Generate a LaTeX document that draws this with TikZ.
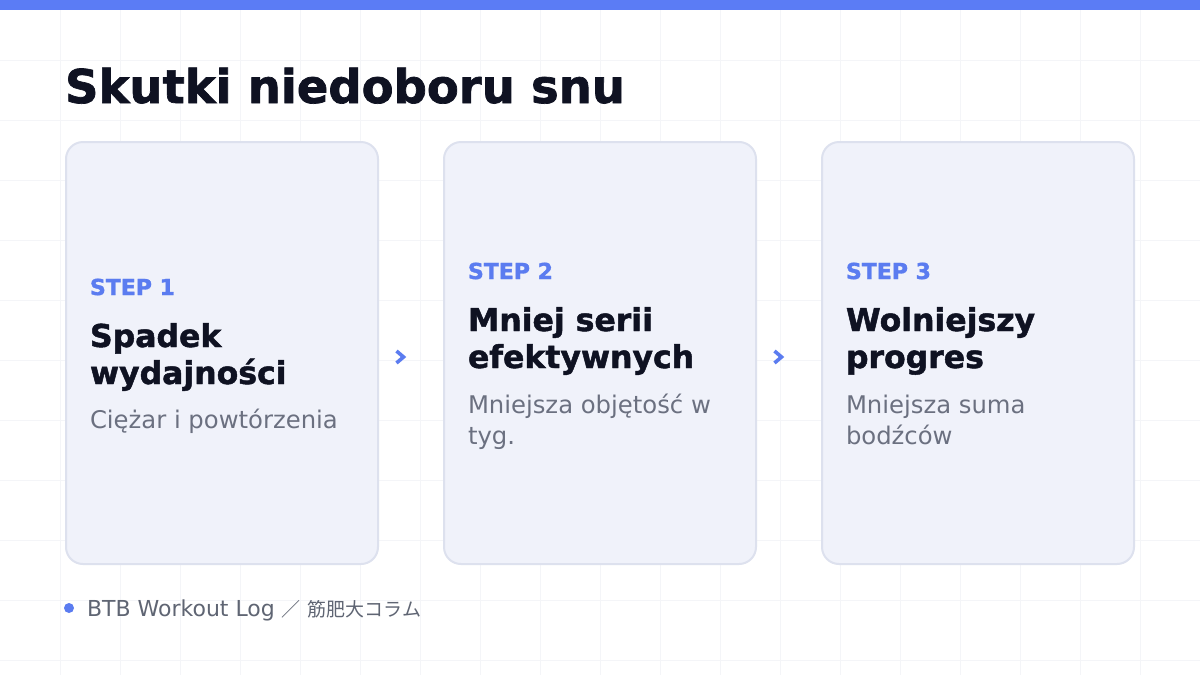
\documentclass[tikz,border=0pt]{standalone}
\usepackage{fontspec}
\setmainfont{DejaVu Sans}[BoldFeatures={FakeBold=1.5}]
\newfontfamily\cjk{Noto Sans CJK JP}
\definecolor{topbar}{HTML}{5B7CF5}
\definecolor{accent}{HTML}{5B7CF0}
\definecolor{gridc}{HTML}{F4F5F8}
\definecolor{cardfill}{HTML}{F0F2FA}
\definecolor{cardline}{HTML}{DDE1EE}
\definecolor{ink}{HTML}{0F1222}
\definecolor{sub}{HTML}{6B7080}
\definecolor{foot}{HTML}{5F6573}
\tikzset{
  gridline/.style={draw=gridc, line width=1pt},
  card/.style={draw=cardline, fill=cardfill, line width=2pt, rounded corners=17pt,
    minimum width=312pt, minimum height=422pt, inner sep=0pt},
  txt/.style={anchor=base west, inner sep=0pt, outer sep=0pt},
  steplbl/.style={txt, text=accent, font=\fontsize{22}{22}\selectfont\bfseries},
  headln/.style={txt, text=ink, font=\fontsize{31.5}{31.5}\selectfont\bfseries},
  subln/.style={txt, text=sub, font=\fontsize{24.3}{24.3}\selectfont},
  chevpt/.style={inner sep=0pt, minimum size=0pt},
  chevron/.style={draw=accent, line width=3.6pt, line cap=butt, line join=miter},
}
\begin{document}
\begin{tikzpicture}[x=1pt, y=-1pt]
\useasboundingbox (0,0) rectangle (1200,675);
\fill[white] (0,0) rectangle (1200,675);
% grid
\foreach \gx in {60,120,...,1140} \draw[gridline] (\gx,0) -- (\gx,675);
\foreach \gy in {60,120,...,660} \draw[gridline] (0,\gy) -- (1200,\gy);
% top bar
\fill[topbar] (0,0) rectangle (1200,10);
% title
\node[txt, text=ink, font=\fontsize{46.5}{46.5}\selectfont\bfseries] (title) at (65,103) {Skutki niedoboru snu};
% cards
\node[card] (c1) at (222,353) {};
\node[card] (c2) at (600,353) {};
\node[card] (c3) at (978,353) {};
% card 1
\node[steplbl] (s1) at (90,295) {STEP 1};
\node[headln] (h1a) at (90,347) {Spadek};
\node[headln] (h1b) at (90,384) {wydajności};
\node[subln] (d1a) at (90,428) {Ciężar i powtórzenia};
% card 2
\node[steplbl] (s2) at (468,279) {STEP 2};
\node[headln] (h2a) at (468,331) {Mniej serii};
\node[headln] (h2b) at (468,368) {efektywnych};
\node[subln] (d2a) at (468,413) {Mniejsza objętość w};
\node[subln] (d2b) at (468,444) {tyg.};
% card 3
\node[steplbl] (s3) at (846,279) {STEP 3};
\node[headln] (h3a) at (846,331) {Wolniejszy};
\node[headln] (h3b) at (846,368) {progres};
\node[subln] (d3a) at (846,413) {Mniejsza suma};
\node[subln] (d3b) at (846,444) {bodźców};
% chevrons
\node[chevpt] (ar1) at (400,357) {};
\node[chevpt] (ar2) at (778,357) {};
\draw[chevron] ([shift={(-3.5,-6)}]ar1.center) -- ++(7,6) -- ++(-7,6);
\draw[chevron] ([shift={(-3.5,-6)}]ar2.center) -- ++(7,6) -- ++(-7,6);
% footer
\fill[accent] (69,608) circle (5);
\node[txt, text=foot, font=\fontsize{22}{22}\selectfont] (ft) at (87,616) {BTB Workout Log {\cjk\fontsize{19}{19}\selectfont ／}\hspace{7pt}{\cjk\fontsize{19}{19}\selectfont 筋肥大コラム}};
\end{tikzpicture}
\end{document}
